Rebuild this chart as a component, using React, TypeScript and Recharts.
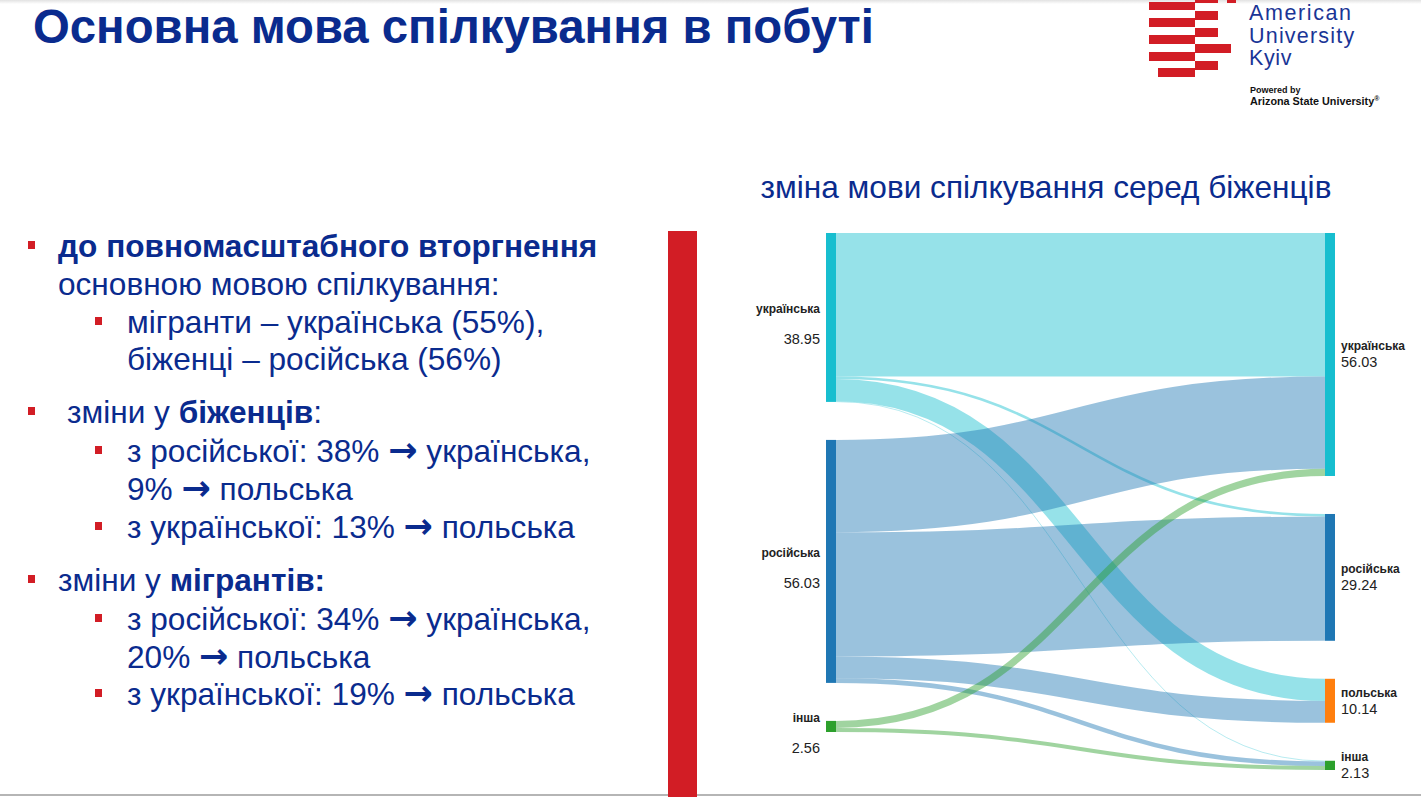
import React from 'react';
import { Sankey } from 'recharts';

// ---- data ----
const nodeNames = ['українська', 'російська', 'інша', 'українська', 'російська', 'польська', 'інша'];
const linkSources = [0, 0, 0, 0, 1, 1, 1, 1, 2, 2];
const linkTargets = [3, 4, 5, 6, 3, 4, 5, 6, 3, 6];
const linkValues = [33.09, 0.6, 5.1, 0.16, 21.3, 28.64, 5.04, 1.05, 1.64, 0.92];

const chartTitle = 'зміна мови спілкування серед біженців';
const slideTitle = 'Основна мова спілкування в побуті';

const nodeColors: Record<string, string> = {
  'українська': '#17becf',
  'російська': '#1f77b4',
  'польська': '#ff7f0e',
  'інша': '#2ca02c',
};

const sankeyData = {
  nodes: nodeNames.map((name) => ({ name })),
  links: linkSources.map((s, i) => ({ source: s, target: linkTargets[i], value: linkValues[i] })),
};

const FONT = '"Liberation Sans", Arial, Helvetica, sans-serif';
const BLUE = '#0a2b8e';
const RED = '#d21d25';

const renderNode = (props: any) => {
  const { x, y, width, height, payload } = props;
  const color = nodeColors[payload.name] || '#888';
  const isLeft = payload.depth === 0 || x < 200;
  const cy = y + height / 2;
  const valueText = Number(payload.value).toFixed(2);
  return (
    <g>
      <rect x={x} y={y} width={width} height={height} fill={color} fillOpacity={1} stroke="none" />
      {isLeft ? (
        <g>
          <text x={x - 6} y={cy - 8} textAnchor="end" dominantBaseline="central" fontFamily={FONT} fontSize={12} fontWeight="bold" fill="#222">
            {payload.name}
          </text>
          <text x={x - 6} y={cy + 22} textAnchor="end" dominantBaseline="central" fontFamily={FONT} fontSize={14.5} fill="#222">
            {valueText}
          </text>
        </g>
      ) : (
        <g>
          <text x={x + width + 6} y={cy - 8} textAnchor="start" dominantBaseline="central" fontFamily={FONT} fontSize={12} fontWeight="bold" fill="#222">
            {payload.name}
          </text>
          <text x={x + width + 6} y={cy + 8} textAnchor="start" dominantBaseline="central" fontFamily={FONT} fontSize={14.5} fill="#222">
            {valueText}
          </text>
        </g>
      )}
    </g>
  );
};

const renderLink = (props: any) => {
  const { sourceX, targetX, sourceY, targetY, sourceControlX, targetControlX, linkWidth, payload } = props;
  const src = payload && payload.source;
  const srcName = typeof src === 'object' && src ? src.name : nodeNames[src as number];
  const color = nodeColors[srcName] || '#999';
  return (
    <path
      d={`M${sourceX},${sourceY}C${sourceControlX},${sourceY} ${targetControlX},${targetY} ${targetX},${targetY}`}
      fill="none"
      stroke={color}
      strokeOpacity={0.45}
      strokeWidth={Math.max(linkWidth, 0.6)}
    />
  );
};

type Part = { t: string; b?: boolean; arrow?: boolean };
type Line = { top: number; left: number; bullet?: number; parts: Part[] };

const A: Part = { t: '→', arrow: true };

const lines: Line[] = [
  { top: 246, left: 58, bullet: 28, parts: [{ t: 'до повномасштабного вторгнення', b: true }] },
  { top: 284, left: 58, parts: [{ t: 'основною мовою спілкування:' }] },
  { top: 322, left: 127, bullet: 95, parts: [{ t: 'мігранти – українська (55%),' }] },
  { top: 359, left: 127, parts: [{ t: 'біженці – російська (56%)' }] },
  { top: 412, left: 67, bullet: 28, parts: [{ t: 'зміни у ' }, { t: 'біженців', b: true }, { t: ':' }] },
  { top: 451, left: 127, bullet: 95, parts: [{ t: 'з російської: 38% ' }, A, { t: ' українська,' }] },
  { top: 489, left: 127, parts: [{ t: '9% ' }, A, { t: ' польська' }] },
  { top: 527, left: 127, bullet: 95, parts: [{ t: 'з української: 13% ' }, A, { t: ' польська' }] },
  { top: 580, left: 58, bullet: 28, parts: [{ t: 'зміни у ' }, { t: 'мігрантів:', b: true }] },
  { top: 619, left: 127, bullet: 95, parts: [{ t: 'з російської: 34% ' }, A, { t: ' українська,' }] },
  { top: 657, left: 127, parts: [{ t: '20% ' }, A, { t: ' польська' }] },
  { top: 694, left: 127, bullet: 95, parts: [{ t: 'з української: 19% ' }, A, { t: ' польська' }] },
];

const logoRects = [
  [1195, 0, 23, 3], [1227, 0, 9, 3],
  [1149, 2, 46, 8],
  [1195, 11, 23, 9],
  [1149, 18, 46, 9],
  [1195, 28, 23, 9],
  [1149, 35, 46, 9],
  [1195, 44, 36, 9],
  [1149, 52, 46, 9],
  [1195, 61, 23, 9],
  [1158, 68, 37, 9],
];

export default function App() {
  return (
    <div style={{ position: 'absolute', left: 0, top: 0, width: 1421, height: 797, background: '#fff', overflow: 'hidden', fontFamily: FONT }}>
      <div style={{ position: 'absolute', left: 0, top: 0, width: 1421, height: 4, background: 'linear-gradient(#e2e2e2, #fff)' }} />
      <div style={{ position: 'absolute', left: 0, top: 794, width: 1421, height: 2, background: '#b5b5b5' }} />

      {/* Slide title */}
      <div style={{ position: 'absolute', left: 33, top: 0, height: 54, lineHeight: '54px', fontSize: 47.3, fontWeight: 'bold', color: BLUE, whiteSpace: 'nowrap' }}>
        {slideTitle}
      </div>

      {/* Logo */}
      <svg style={{ position: 'absolute', left: 0, top: 0 }} width={1421} height={120}>
        {logoRects.map((r, i) => (
          <rect key={i} x={r[0]} y={r[1]} width={r[2]} height={r[3]} fill={RED} />
        ))}
        <text x={1249} y={20} fontFamily={FONT} fontSize={21.5} letterSpacing={1.6} fill="#1a3596">American</text>
        <text x={1249} y={43} fontFamily={FONT} fontSize={21.5} letterSpacing={1.2} fill="#1a3596">University</text>
        <text x={1249} y={65} fontFamily={FONT} fontSize={21.5} letterSpacing={0.6} fill="#1a3596">Kyiv</text>
        <text x={1250} y={93} fontFamily={FONT} fontSize={9} fontWeight="bold" fill="#111">Powered by</text>
        <text x={1250} y={105} fontFamily={FONT} fontSize={10.8} fontWeight="bold" fill="#111">
          Arizona State University<tspan fontSize={7} dy={-4}>®</tspan>
        </text>
      </svg>

      {/* Bullets */}
      {lines.map((ln, i) => (
        <React.Fragment key={i}>
          {ln.bullet !== undefined && (
            <div style={{ position: 'absolute', left: ln.bullet, top: ln.top - 5, width: 7, height: 8, background: RED }} />
          )}
          <div style={{ position: 'absolute', left: ln.left, top: ln.top - 19, height: 38, lineHeight: '38px', fontSize: 31.6, color: BLUE, whiteSpace: 'nowrap' }}>
            {ln.parts.map((p, j) => (
              <span
                key={j}
                style={{
                  fontWeight: p.b || p.arrow ? 'bold' : 'normal',
                  whiteSpace: 'pre',
                  fontFamily: p.arrow ? '"DejaVu Sans", sans-serif' : undefined,
                  fontSize: p.arrow ? 35 : undefined,
                  lineHeight: p.arrow ? '30px' : undefined,
                }}
              >
                {p.t}
              </span>
            ))}
          </div>
        </React.Fragment>
      ))}

      {/* Red vertical bar */}
      <div style={{ position: 'absolute', left: 668, top: 231, width: 29, height: 566, background: RED }} />

      {/* Chart title */}
      <div style={{ position: 'absolute', left: 746, top: 169, width: 600, textAlign: 'center', fontSize: 31.6, lineHeight: '36px', color: BLUE, whiteSpace: 'nowrap' }}>
        {chartTitle}
      </div>

      {/* Sankey */}
      <div style={{ position: 'absolute', left: 700, top: 200 }}>
        <Sankey
          width={721}
          height={597}
          data={sankeyData}
          nodeWidth={10}
          nodePadding={38}
          iterations={0}
          linkCurvature={0.5}
          margin={{ left: 126, right: 86, top: 33, bottom: 27 }}
          node={renderNode}
          link={renderLink}
        />
      </div>
    </div>
  );
}
